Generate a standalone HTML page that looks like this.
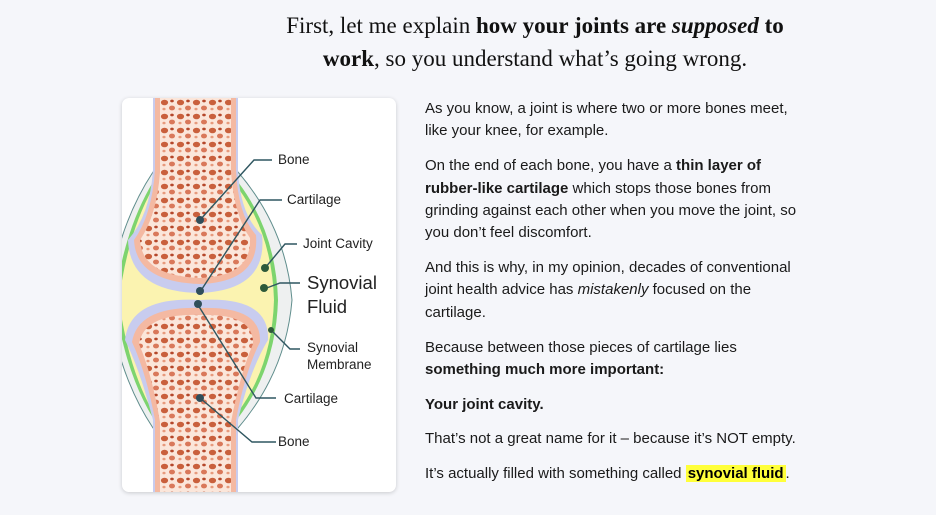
<!DOCTYPE html><html><head><meta charset="utf-8"><style>
body{margin:0;width:936px;height:515px;background:#f5f6fa;overflow:hidden;position:relative;font-family:"Liberation Sans",sans-serif}
.h{position:absolute;left:270px;width:530px;top:9px;text-align:center;font-family:"Liberation Serif",serif;font-size:23px;line-height:33px;color:#111}
.card{position:absolute;left:122px;top:98px;width:274px;height:394px;background:#fff;border-radius:7px;box-shadow:0 1px 4px rgba(0,0,0,.18);overflow:hidden}
.t{position:absolute;left:425px;top:98px;width:388px;font-size:15px;line-height:22.4px;color:#1a1a1a}
.t p{margin:0 0 12.3px}
mark{background:#ffff3a;padding:0 2px}
</style></head><body>
<div class="h">First, let me explain <b>how your joints are <i>supposed</i> to work</b>, so you understand what’s going wrong.</div>
<div class="card"><svg width="274" height="394" viewBox="122 98 274 394" font-family="Liberation Sans,sans-serif" font-size="13.5" fill="#222">
<defs><pattern id="sp" width="16" height="14" patternUnits="userSpaceOnUse"><rect width="16" height="14" fill="#fbe6da"/><ellipse cx="4.5" cy="4.5" rx="3.6" ry="2.8" fill="#c9603c"/><ellipse cx="12" cy="10" rx="3" ry="2.4" fill="#d9785a"/><ellipse cx="12" cy="3" rx="1.8" ry="1.4" fill="#b5472a"/><ellipse cx="4" cy="11" rx="1.6" ry="1.3" fill="#e79a7c"/></pattern></defs>
<path d="M153 172 Q118 225 108 300 Q118 375 153 428 L238 428 Q286 372 292 300 Q286 228 238 172Z" fill="#eef0f0" stroke="#5f8d8c" stroke-width="1"/>
<path d="M153 182 Q124 230 115 300 Q124 370 153 418 L238 418 Q276 368 278 300 Q276 232 238 182Z" fill="#7dd46e"/>
<path d="M153 188 Q128 232 119 300 Q128 368 153 412 L238 412 Q272 366 274 300 Q272 234 238 188Z" fill="#fbf3b0"/>
<path d="M153 98 H238 V170 Q240 215 262 235 Q268 290 200 293 Q130 292 128 240 Q150 215 153 170Z" fill="#c8ccef"/>
<path d="M155 98 H236 V170 Q238 215 256 235 Q260 282 200 284 Q136 282 134 240 Q152 215 155 170Z" fill="#f4b9a2"/>
<path d="M160 98 H231 V172 Q234 215 250 238 Q252 276 200 278 Q142 276 140 240 Q157 215 160 172Z" fill="url(#sp)"/>
<path d="M200 300 Q270 296 268 340 Q250 370 238 420 V492 H153 V420 Q140 370 125 340 Q130 296 200 300Z" fill="#c8ccef"/>
<path d="M200 308 Q262 306 260 342 Q245 372 236 420 V492 H155 V420 Q146 372 132 342 Q138 306 200 308Z" fill="#f4b9a2"/>
<path d="M200 315 Q254 313 253 344 Q240 374 231 422 V492 H160 V422 Q152 374 139 344 Q144 313 200 315Z" fill="url(#sp)"/>
<g stroke="#2f5660" stroke-width="1.4" fill="none">
<path d="M200 220 L254 160 H272"/><path d="M200 292 L260 200 H282"/><path d="M265 268 L285 244 H297"/><path d="M264 289 L280 283 H300"/><path d="M271 330 L290 349 H300"/><path d="M198 305 L256 398 H276"/><path d="M200 398 L252 442 H276"/>
</g>
<g fill="#2f4e5a"><circle cx="200" cy="220" r="4"/><circle cx="200" cy="291" r="4"/><circle cx="198" cy="304" r="4"/><circle cx="200" cy="398" r="4"/><circle cx="265" cy="268" r="4" fill="#2d5a3a"/><circle cx="264" cy="288" r="4" fill="#2d5a3a"/><circle cx="271" cy="330" r="3" fill="#2d5a3a"/></g>
<text x="278" y="164">Bone</text><text x="287" y="204">Cartilage</text><text x="303" y="248">Joint Cavity</text>
<text x="307" y="289" font-size="18.5">Synovial</text><text x="307" y="313" font-size="18.5">Fluid</text>
<text x="307" y="352">Synovial</text><text x="307" y="369">Membrane</text>
<text x="284" y="403">Cartilage</text><text x="278" y="446">Bone</text>
</svg></div>
<div class="t">
<p>As you know, a joint is where two or more bones meet, like your knee, for example.</p>
<p>On the end of each bone, you have a <b>thin layer of rubber-like cartilage</b> which stops those bones from grinding against each other when you move the joint, so you don’t feel discomfort.</p>
<p>And this is why, in my opinion, decades of conventional joint health advice has <i>mistakenly</i> focused on the cartilage.</p>
<p>Because between those pieces of cartilage lies <b>something much more important:</b></p>
<p><b>Your joint cavity.</b></p>
<p>That’s not a great name for it – because it’s NOT empty.</p>
<p>It’s actually filled with something called <mark><b>synovial fluid</b></mark>.</p>
</div>
</body></html>
